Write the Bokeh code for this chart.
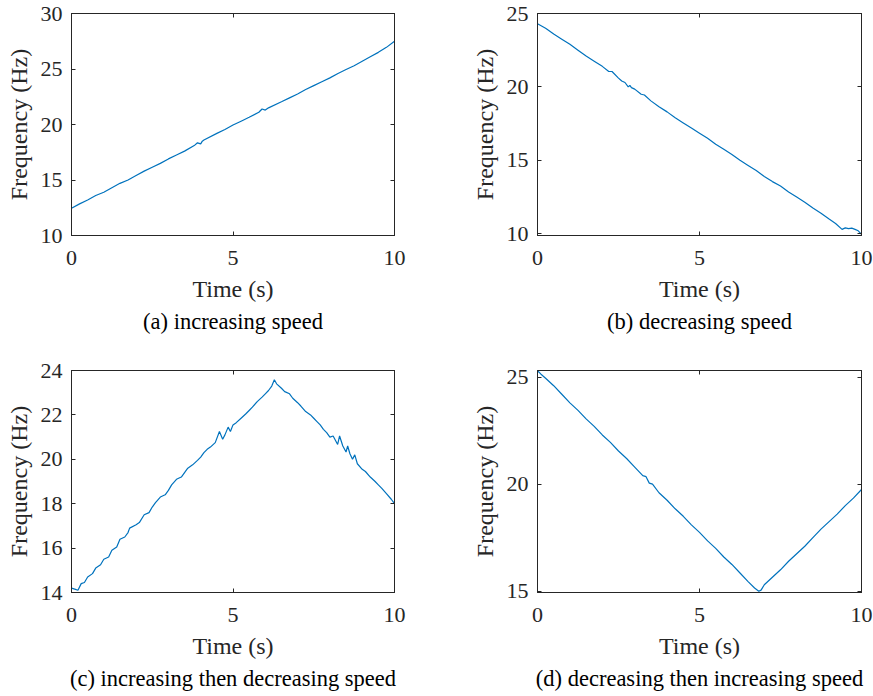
from bokeh.plotting import figure
from bokeh.layouts import column, row
from bokeh.models import LinearAxis, FixedTicker, Title, Range1d
from bokeh.embed import file_html
from bokeh.resources import INLINE

# ---- data ----
t_a = [0, 0.25, 0.5, 0.75, 1.0, 1.25, 1.5, 1.75, 2.0, 2.25, 2.5, 2.75, 3.0, 3.25, 3.5, 3.8, 3.9, 4.0, 4.05, 4.1,
       4.5, 4.75, 5.0, 5.25, 5.5, 5.8, 5.9, 6.0, 6.1, 6.5, 6.75, 7.0, 7.25, 7.5, 7.75, 8.0, 8.25, 8.5, 8.75,
       9.0, 9.25, 9.5, 9.75, 10.0]
f_a = [12.45, 12.85, 13.2, 13.6, 13.9, 14.3, 14.7, 15.0, 15.4, 15.8, 16.15, 16.5, 16.9, 17.25, 17.6, 18.1, 18.35,
       18.25, 18.5, 18.6, 19.2, 19.55, 19.95, 20.3, 20.65, 21.1, 21.4, 21.3, 21.5, 22.05, 22.4, 22.75, 23.15,
       23.5, 23.85, 24.2, 24.6, 24.95, 25.3, 25.7, 26.1, 26.5, 26.95, 27.5]

t_b = [0, 0.25, 0.5, 0.75, 1.0, 1.25, 1.5, 1.75, 2.0, 2.2, 2.3, 2.5, 2.6, 2.7, 2.8, 2.85, 2.9, 3.0, 3.2, 3.3,
       3.5, 3.75, 4.0, 4.25, 4.5, 4.75, 5.0, 5.25, 5.5, 5.75, 6.0, 6.25, 6.5, 6.75, 7.0, 7.25, 7.5, 7.75, 8.0,
       8.25, 8.5, 8.75, 9.0, 9.2, 9.4, 9.5, 9.6, 9.7, 9.8, 9.9, 10.0]
f_b = [24.3, 24.0, 23.6, 23.25, 22.9, 22.5, 22.1, 21.75, 21.4, 21.05, 21.05, 20.6, 20.4, 20.3, 20.0, 20.1, 19.95,
       19.85, 19.5, 19.45, 19.05, 18.65, 18.3, 17.9, 17.55, 17.2, 16.85, 16.5, 16.1, 15.75, 15.4, 15.0, 14.65,
       14.3, 13.9, 13.55, 13.25, 12.85, 12.5, 12.15, 11.75, 11.4, 11.0, 10.7, 10.3, 10.4, 10.35, 10.38, 10.3,
       10.2, 9.95]

t_c = [0, 0.1, 0.2, 0.3, 0.4, 0.5, 0.65, 0.75, 0.9, 1.0, 1.15, 1.25, 1.4, 1.5, 1.65, 1.75, 1.8, 2.0, 2.1, 2.25,
       2.4, 2.5, 2.6, 2.75, 2.9, 3.0, 3.1, 3.25, 3.4, 3.5, 3.6, 3.75, 3.9, 4.0, 4.1, 4.2, 4.3, 4.45, 4.58, 4.68,
       4.75, 4.85, 4.92, 5.0, 5.1, 5.25, 5.4, 5.5, 5.6, 5.75, 5.9, 6.0, 6.1, 6.2, 6.28, 6.35, 6.5, 6.6, 6.75,
       6.85, 7.0, 7.1, 7.25, 7.4, 7.5, 7.6, 7.7, 7.8, 7.9, 8.0, 8.1, 8.24, 8.3, 8.4, 8.5, 8.55, 8.62, 8.7, 8.77,
       8.85, 9.0, 9.1, 9.25, 9.4, 9.5, 9.6, 9.75, 9.9, 10.0]
f_c = [14.2, 14.15, 14.1, 14.4, 14.45, 14.7, 14.85, 15.1, 15.25, 15.5, 15.6, 15.9, 16.05, 16.4, 16.5, 16.7, 16.9,
       17.05, 17.15, 17.5, 17.6, 17.85, 18.05, 18.3, 18.4, 18.6, 18.85, 19.1, 19.2, 19.4, 19.6, 19.75, 19.95,
       20.1, 20.3, 20.45, 20.55, 20.75, 21.25, 20.9, 21.1, 21.45, 21.25, 21.55, 21.65, 21.85, 22.05, 22.2, 22.35,
       22.6, 22.8, 22.95, 23.1, 23.3, 23.58, 23.4, 23.2, 23.05, 22.95, 22.75, 22.55, 22.4, 22.15, 22.0, 21.85,
       21.7, 21.55, 21.35, 21.2, 21.0, 21.05, 20.67, 21.05, 20.6, 20.33, 20.6, 20.25, 20.0, 20.2, 19.8, 19.55,
       19.45, 19.2, 19.0, 18.85, 18.7, 18.45, 18.2, 18.0]

t_d = [0, 0.1, 0.25, 0.5, 0.75, 1.0, 1.25, 1.5, 1.75, 2.0, 2.25, 2.5, 2.75, 3.0, 3.25, 3.35, 3.45, 3.55, 3.75,
       4.0, 4.25, 4.5, 4.75, 5.0, 5.25, 5.5, 5.75, 6.0, 6.25, 6.5, 6.7, 6.83, 6.9, 7.0, 7.25, 7.5, 7.75, 8.0,
       8.25, 8.5, 8.75, 9.0, 9.25, 9.5, 9.75, 10.0]
f_d = [25.3, 25.15, 24.95, 24.6, 24.2, 23.8, 23.45, 23.05, 22.7, 22.3, 21.95, 21.55, 21.2, 20.8, 20.4, 20.35,
       20.05, 20.0, 19.6, 19.25, 18.85, 18.5, 18.1, 17.75, 17.35, 17.0, 16.6, 16.25, 15.85, 15.45, 15.15, 15.0,
       15.05, 15.3, 15.65, 16.0, 16.4, 16.75, 17.1, 17.5, 17.9, 18.25, 18.6, 19.0, 19.35, 19.75]

x_ticks = [0, 5, 10]
yt_a = [10, 15, 20, 25, 30]
yt_b = [10, 15, 20, 25]
yt_c = [14, 16, 18, 20, 22, 24]
yt_d = [15, 20, 25]

captions = ["(a) increasing speed", "(b) decreasing speed",
            "(c) increasing then decreasing speed", "(d) decreasing then increasing speed"]

FONT = "Liberation Serif"
TICK_FS = "22px"
LABEL_FS = "24px"
CAP_FS = "22.5px"
AX = "#262626"
BLUE = "#0072BD"


def style_axis(ax, show_labels=True):
    ax.axis_line_color = AX
    ax.axis_line_width = 1
    ax.major_tick_line_color = AX
    ax.major_tick_in = 4
    ax.major_tick_out = 0
    ax.minor_tick_line_color = None
    ax.major_label_text_font = FONT
    ax.axis_label_text_font = FONT
    ax.axis_label_text_font_size = LABEL_FS
    ax.axis_label_text_font_style = "normal"
    ax.axis_label_text_color = AX
    if show_labels:
        ax.major_label_text_font_size = TICK_FS
        ax.major_label_text_color = AX
    else:
        ax.major_label_text_font_size = "1px"
        ax.major_label_text_color = None
        ax.major_label_standoff = 0


def make(t, f, yr, yticks, caption, width, height, mbl, mbr, mbb):
    p = figure(width=width, height=height, x_range=Range1d(0, 10), y_range=Range1d(*yr),
               output_backend="svg", toolbar_location=None,
               min_border_left=mbl, min_border_right=mbr, min_border_top=13, min_border_bottom=mbb)
    p.line(t, f, line_color=BLUE, line_width=1.2)
    p.xgrid.grid_line_color = None
    p.ygrid.grid_line_color = None
    p.outline_line_color = AX
    p.xaxis.ticker = FixedTicker(ticks=x_ticks)
    p.yaxis.ticker = FixedTicker(ticks=yticks)
    p.xaxis.axis_label = "Time (s)"
    p.yaxis.axis_label = "Frequency (Hz)"
    for ax in p.xaxis + p.yaxis:
        style_axis(ax)
    p.xaxis.major_label_standoff = 15
    p.yaxis.major_label_standoff = 9
    p.xaxis.axis_label_standoff = 8
    p.yaxis.axis_label_standoff = 6
    ra = LinearAxis(ticker=FixedTicker(ticks=yticks))
    style_axis(ra, False)
    p.add_layout(ra, "right")
    ta = LinearAxis(ticker=FixedTicker(ticks=x_ticks))
    style_axis(ta, False)
    p.add_layout(ta, "above")
    cap = Title(text=caption, align="center", text_font=FONT, text_font_size=CAP_FS,
                text_font_style="normal", text_color="black", standoff=5)
    p.add_layout(cap, "below")
    return p


pa = make(t_a, f_a, (10, 30), yt_a, captions[0], 436, 357, 71, 42, 122)
pb = make(t_b, f_b, (9.88, 25), yt_b, captions[1], 437, 357, 101, 12, 122)
pc = make(t_c, f_c, (14, 24), yt_c, captions[2], 436, 339, 71, 42, 104)
pd = make(t_d, f_d, (14.94, 25.31), yt_d, captions[3], 437, 339, 101, 12, 104)

layout = column(row(pa, pb), row(pc, pd))
open("out.html", "w").write(file_html(layout, INLINE))
